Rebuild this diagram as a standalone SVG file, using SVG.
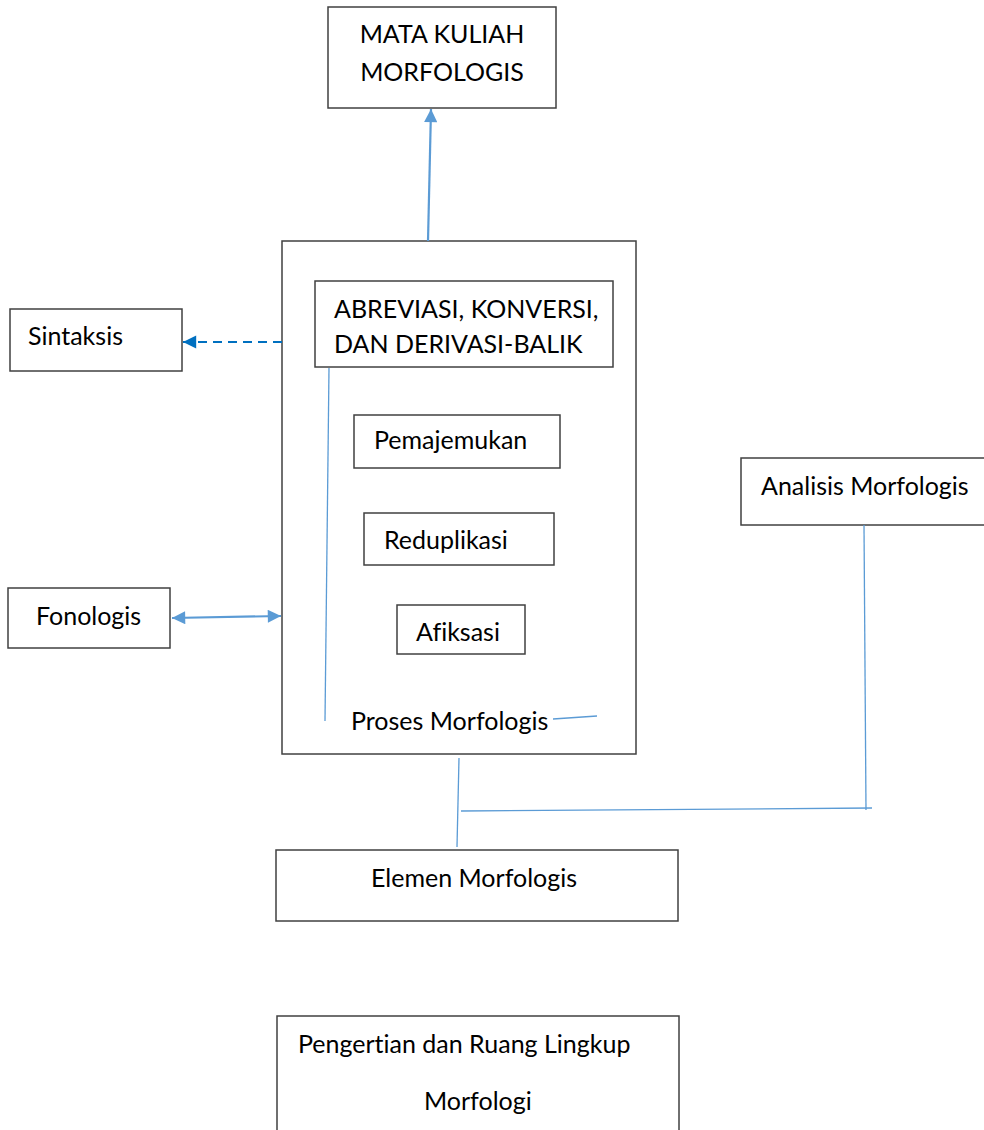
<svg xmlns="http://www.w3.org/2000/svg" width="984" height="1130" viewBox="0 0 984 1130">
<style>
.box{fill:#fff;stroke:#404040;stroke-width:1.5}
.t{font-family:Lato,"Liberation Sans",sans-serif;font-size:25px;fill:#000;font-variant-ligatures:none}
.c{fill:none;stroke:#5B9BD5;stroke-width:1.3}
.a{fill:none;stroke:#5B9BD5;stroke-width:2.2}
.d{fill:none;stroke:#0070C0;stroke-width:2.2;stroke-dasharray:9 6}
</style>
<defs>
<marker id="ah" viewBox="0 0 10 10" refX="10" refY="5" markerWidth="6.5" markerHeight="6" orient="auto-start-reverse" markerUnits="strokeWidth"><path d="M0,0 L10,5 L0,10 z" fill="#5B9BD5"/></marker>
<marker id="ahd" viewBox="0 0 10 10" refX="10" refY="5" markerWidth="6.5" markerHeight="6" orient="auto" markerUnits="strokeWidth"><path d="M0,0 L10,5 L0,10 z" fill="#0070C0"/></marker>
</defs>
<g id="proses">
<rect class="box" x="282" y="241" width="354" height="513"/>
<text class="t" x="351" y="730">Proses Morfologis</text>
</g>
<g id="mata-kuliah">
<rect class="box" x="328" y="7" width="228" height="101"/>
<text class="t" x="442" y="43" text-anchor="middle">MATA KULIAH</text>
<text class="t" x="442" y="81" text-anchor="middle">MORFOLOGIS</text>
</g>
<g id="sintaksis">
<rect class="box" x="10" y="309" width="172" height="62"/>
<text class="t" x="28" y="345">Sintaksis</text>
</g>
<g id="fonologis">
<rect class="box" x="8" y="588" width="162" height="60"/>
<text class="t" x="36" y="625">Fonologis</text>
</g>
<g id="abreviasi">
<rect class="box" x="315" y="281" width="298" height="86"/>
<text class="t" x="334" y="318">ABREVIASI, KONVERSI,</text>
<text class="t" x="334" y="353">DAN DERIVASI-BALIK</text>
</g>
<g id="pemajemukan">
<rect class="box" x="354" y="415" width="206" height="53"/>
<text class="t" x="374" y="449">Pemajemukan</text>
</g>
<g id="reduplikasi">
<rect class="box" x="364" y="513" width="190" height="52"/>
<text class="t" x="384" y="549">Reduplikasi</text>
</g>
<g id="afiksasi">
<rect class="box" x="397" y="605" width="128" height="49"/>
<text class="t" x="416" y="641">Afiksasi</text>
</g>
<g id="analisis">
<rect class="box" x="741" y="458" width="250" height="67"/>
<text class="t" x="761" y="495">Analisis Morfologis</text>
</g>
<g id="elemen">
<rect class="box" x="276" y="850" width="402" height="71"/>
<text class="t" x="371" y="887">Elemen Morfologis</text>
</g>
<g id="pengertian">
<rect class="box" x="277" y="1016" width="402" height="130"/>
<text class="t" x="298" y="1053">Pengertian dan Ruang Lingkup</text>
<text class="t" x="424" y="1110">Morfologi</text>
</g>
<g id="connectors">
<line class="a" x1="428" y1="241" x2="431" y2="109" marker-end="url(#ah)"/>
<line class="d" x1="282" y1="342" x2="183" y2="342" marker-end="url(#ahd)"/>
<line class="a" x1="172" y1="618" x2="281" y2="616" marker-start="url(#ah)" marker-end="url(#ah)"/>
<line class="c" x1="329" y1="368" x2="325" y2="721"/>
<line class="c" x1="553" y1="719" x2="597" y2="716"/>
<line class="c" x1="864" y1="525" x2="866" y2="810"/>
<line class="c" x1="461" y1="811" x2="872" y2="808"/>
<line class="c" x1="459" y1="758" x2="457" y2="847"/>
</g>
</svg>
